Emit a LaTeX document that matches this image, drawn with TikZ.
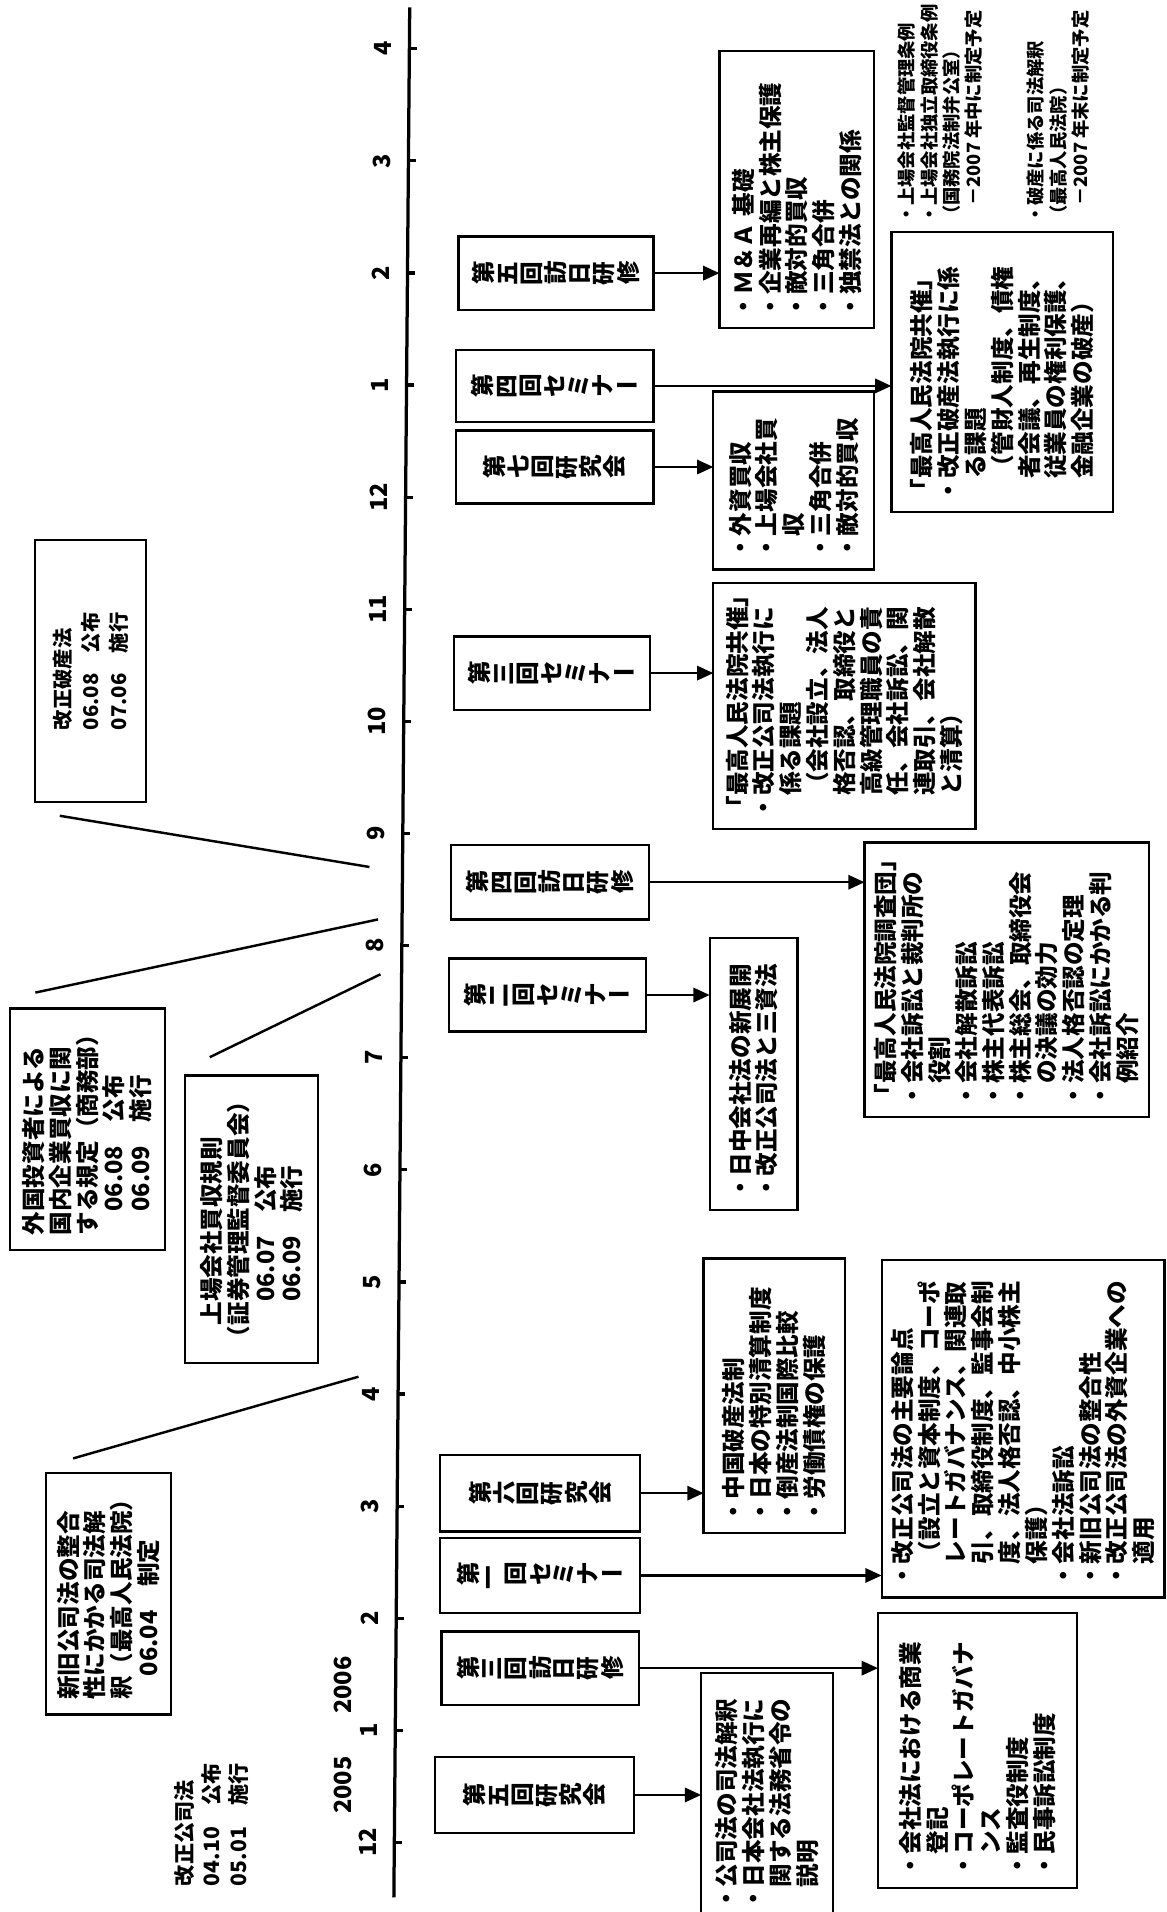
\documentclass[tikz,border=0pt]{standalone}
\usepackage{fontspec}
\setmainfont{Noto Sans CJK JP}
\usepackage{graphicx}
\usetikzlibrary{arrows.meta}
\makeatletter
\def\chou{ー}
\newcommand\rc[1]{\makebox[1.02em][c]{\rotatebox[origin=c]{90}{#1}}}
\newcommand\VT[1]{\@tfor\vtc:=#1\do{\ifx\vtc\chou \makebox[1.02em][c]{ー}\else\rc{\vtc}\fi}}
\makeatother
\tikzset{
 jfont/.style={font=\bfseries\fontsize{11.6pt}{13.2pt}\selectfont},
 nfont/.style={font=\bfseries\fontsize{9pt}{11pt}\selectfont},
 bx/.style={draw, line width=1.1pt, inner sep=0pt, outer sep=0pt, jfont},
 cb/.style={bx, rotate=90, align=left},
 eb/.style={bx},
 arr/.style={line width=1.2pt, -{Triangle[length=8pt,width=7pt]}},
 conn/.style={line width=1.2pt},
 axisline/.style={line width=1.6pt},
 tick/.style={line width=1.6pt},
 tl/.style={rotate=90, inner sep=0pt, jfont},
 note/.style={rotate=90, inner sep=0pt, align=left, anchor=north west, jfont},
}
\newcommand\CB[7][]{%
 \pgfmathsetmacro\cbw{(#6-#5)*0.6}%
 \pgfmathsetmacro\cbh{(#4-#3)*0.6}%
 \pgfmathsetmacro\cbt{(#6-#5-16)*0.6}%
 \node[cb,minimum width=\cbw pt,minimum height=\cbh pt,text width=\cbt pt,#1] (#2) at ({(#3+#4)/2},{(#5+#6)/2}) {#7};}
\newcommand\LB[7][]{%
 \pgfmathsetmacro\cbw{(#6-#5)*0.6}%
 \pgfmathsetmacro\cbh{(#4-#3)*0.6}%
 \node[cb,minimum width=\cbw pt,minimum height=\cbh pt,#1] (#2) at ({(#3+#4)/2},{(#5+#6)/2}) {#7};}
\newcommand\EB[6]{%
 \pgfmathsetmacro\cbw{(#3-#2)*0.6}%
 \pgfmathsetmacro\cbh{(#5-#4)*0.6}%
 \node[eb,minimum width=\cbw pt,minimum height=\cbh pt] (#1) at ({(#2+#3)/2},{(#4+#5)/2}) {#6};}
\begin{document}
\begin{tikzpicture}[x=0.6pt,y=-0.6pt]
\useasboundingbox (0,0) rectangle (957,1568);
\fill[white] (0,0) rectangle (957,1568);
\clip (0,0) rectangle (957,1568);
% axis
\coordinate (ax0) at (323,1556);
\coordinate (ax1) at (336,6);
\draw[axisline] (ax0) -- (ax1);
\foreach \ii/\lab in {0/12,1/1,2/2,3/3,4/4,5/5,6/6,7/7,8/8,9/9,10/10,11/11,12/12,13/1,14/2,15/3,16/4}{
 \pgfmathsetmacro\yy{1511-91.94*\ii}
 \pgfmathsetmacro\xx{336-(\yy-6)/1550*13}
 \draw[tick] (\xx,\yy) -- ++(6,0);
 \node[tl] (tk\ii) at (\xx-22,\yy) {\lab};
}
\node[tl] (y2005) at (281,1464) {2005};
\node[tl] (y2006) at (281,1382) {2006};
% free texts
\node[note, font=\bfseries\fontsize{10.4pt}{13.2pt}\selectfont] (kaisei) at (143,1547) {改正公司法\\04.10　公布\\05.01　施行};
\node[note, nfont] (n1) at (736,184) {・上場会社監督管理条例\\・上場会社独立取締役条例\\（国務院法制弁公室）\\　－2007 年中に制定予定};
\node[note, nfont] (n2) at (842,184) {・破産に係る司法解釈\\（最高人民法院）\\　－2007 年末に制定予定};
% law boxes
\LB{b1}{38}{140}{1208}{1406}{新旧公司法の整合\\性にかかる司法解\\釈（最高人民法院）\\　06.04　制定}
\LB{b2}{152}{261}{882}{1118}{　上場会社買収規則\\（証券管理監督委員会）\\　　06.07　公布\\　　06.09　施行}
\LB{b3}{8}{135}{827}{1025}{外国投資者による\\国内企業買収に関\\する規定（商務部）\\　06.08　公布\\　06.09　施行}
\LB[font=\bfseries\fontsize{10pt}{13.6pt}\selectfont]{b4}{29}{120}{443}{658}{改正破産法\\06.08　公布\\07.06　施行}
% connectors to timeline
\coordinate (p1a) at (60,1196);  \coordinate (p1b) at (294,1129);
\coordinate (p2a) at (172,867);  \coordinate (p2b) at (312,799);
\coordinate (p3a) at (29,814);   \coordinate (p3b) at (310,754);
\coordinate (p4a) at (49,669);   \coordinate (p4b) at (303,711);
\draw[conn] (p1a) -- (p1b);
\draw[conn] (p2a) -- (p2b);
\draw[conn] (p3a) -- (p3b);
\draw[conn] (p4a) -- (p4b);
% event boxes
\EB{e1}{376}{536}{194}{254}{\VT{第五回訪日研修}}
\EB{e2}{374}{536}{287}{346}{\VT{第四回セミナー}}
\EB{e3}{374}{536}{353}{413}{\VT{第七回研究会}}
\EB{e4}{372}{533}{522}{582}{\VT{第三回セミナー}}
\EB{e5}{370}{532}{693}{754}{\VT{第四回訪日研修}}
\EB{e6}{368}{530}{786}{846}{\VT{第二回セミナー}}
\EB{e7}{361}{525}{1193}{1256}{\VT{第六回研究会}}
\EB{e8}{361}{525}{1261}{1323}{\VT{第一回セミナー}}
\EB{e9}{362}{524}{1338}{1398}{\VT{第三回訪日研修}}
\EB{e10}{357}{520}{1441}{1503}{\VT{第五回研究会}}
% content boxes
\CB{c10}{590}{717}{42}{269}{・Ｍ＆Ａ 基礎\\・企業再編と株主保護\\・敵対的買収\\・三角合併\\・独禁法との関係}
\CB{c9}{731}{913}{190}{420}{「最高人民法院共催」\\・改正破産法執行に係\\　る課題\\　（管財人制度、債権\\　者会議、再生制度、\\　従業員の権利保護、\\　金融企業の破産）}
\CB{c8}{585}{717}{321}{467}{・外資買収\\・上場会社買\\　収\\・三角合併\\・敵対的買収}
\CB{c7}{585}{800}{478}{680}{「最高人民法院共催」\\・改正公司法執行に\\　係る課題\\　（会社設立、法人\\　格否認、取締役と\\　高級管理職員の責\\　任、会社訴訟、関\\　連取引、会社解散\\　と清算）}
\CB{c6}{709}{942}{691}{916}{「最高人民法院調査団」\\・会社訴訟と裁判所の\\　役割\\・会社解散訴訟\\・株主代表訴訟\\・株主総会、取締役会\\　の決議の効力\\・法人格否認の定理\\・会社訴訟にかかる判\\　例紹介}
\CB{c5}{582}{654}{769}{992}{・日中会社法の新展開\\・改正公司法と三資法}
\CB{c4}{577}{693}{1032}{1257}{・中国破産法制\\・日本の特別清算制度\\・倒産法制国際比較\\・労働債権の保護}
\CB{c3}{723}{955}{1033}{1310}{・改正公司法の主要論点\\　（設立と資本制度、コーポ\\　レートガバナンス、関連取\\　引、取締役制度、監事会制\\　度、法人格否認、中小株主\\　保護）\\・会社法訴訟\\・新旧公司法の整合性\\・改正公司法の外資企業への\\　適用}
\CB{c2}{720}{883}{1323}{1548}{・会社法における商業\\　登記\\・コーポレートガバナ\\　ンス\\・監査役制度\\・民事訴訟制度}
\CB{c1}{575}{683}{1372}{1575}{・公司法の司法解釈\\・日本会社法執行に\\　関する法務省令の\\　説明}
% arrows
\foreach \src/\dst in {e1/c10,e2/c9,e3/c8,e4/c7,e5/c6,e6/c5,e7/c4,e8/c3,e9/c2,e10/c1}
  \draw[arr] (\src.east) -- (\dst.north |- \src.east);
\end{tikzpicture}
\end{document}
